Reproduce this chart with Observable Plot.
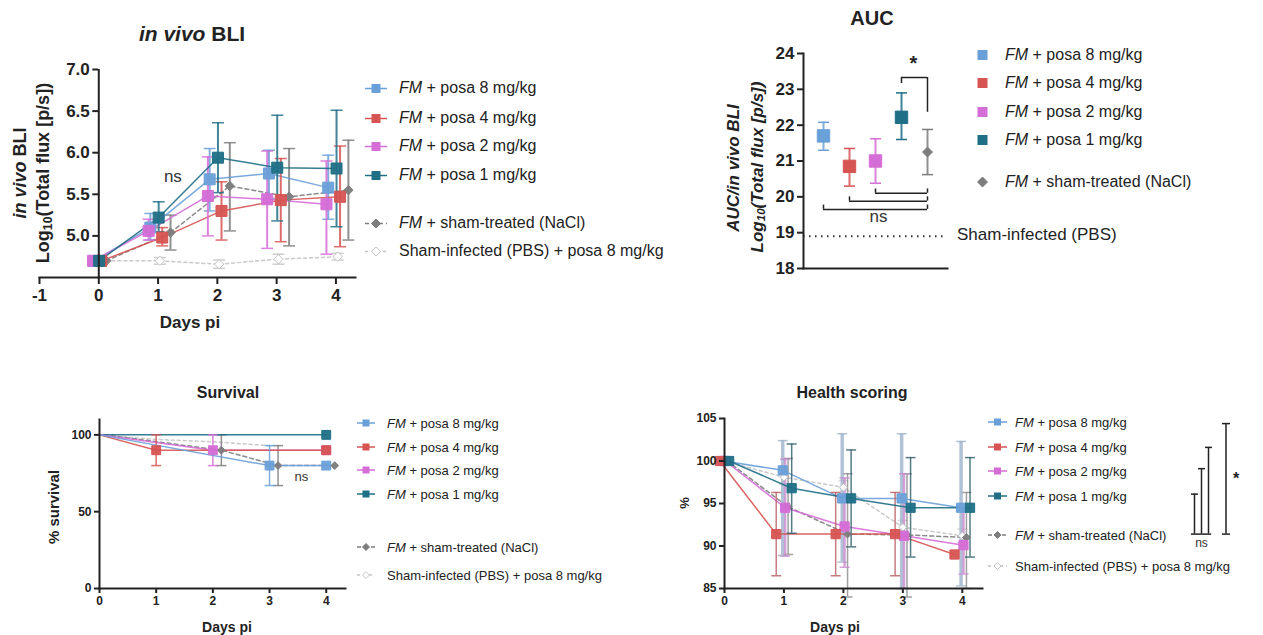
<!DOCTYPE html>
<html><head><meta charset="utf-8">
<script src="https://cdn.jsdelivr.net/npm/d3@7"></script>
<script src="https://cdn.jsdelivr.net/npm/@observablehq/plot@0.6"></script>
<style>
body{margin:0;background:#fff;font-family:"Liberation Sans",Arial,sans-serif;}
#root{position:relative;width:1263px;height:635px;overflow:hidden;background:#fff;}
.abs{position:absolute;white-space:nowrap;color:#222;line-height:1;}
.title{font-weight:bold;transform:translate(-50%,-50%);}
.ylab{font-weight:bold;transform:translate(-50%,-50%) rotate(-90deg);}
.leg{position:absolute;display:flex;align-items:center;white-space:nowrap;color:#222;transform:translateY(-50%);line-height:1;}
sub{font-size:0.68em;vertical-align:-0.25em;line-height:0;}
</style></head><body><div id="root"></div><script>
// ---------------- DATA ----------------
const groups = ["FM + posa 8 mg/kg","FM + posa 4 mg/kg","FM + posa 2 mg/kg","FM + posa 1 mg/kg","FM + sham-treated (NaCl)","Sham-infected (PBS) + posa 8 mg/kg"];
const days = [0,1,2,3,4];

// in vivo BLI, log10 total flux (mean, lower, upper)
const bli8  = [4.70,5.10,5.68,5.75,5.58], bli8Lo  = [4.70,4.95,5.30,5.45,5.20], bli8Hi  = [4.70,5.27,6.05,6.03,5.97];
const bli4  = [4.70,4.98,5.30,5.43,5.47], bli4Lo  = [4.70,4.88,4.95,4.93,4.87], bli4Hi  = [4.70,5.10,5.65,5.93,6.08];
const bli2  = [4.70,5.06,5.48,5.44,5.38], bli2Lo  = [4.70,4.95,5.00,4.85,4.78], bli2Hi  = [4.70,5.20,5.95,6.02,5.90];
const bli1  = [4.70,5.22,5.94,5.82,5.81], bli1Lo  = [4.70,5.05,5.52,5.18,5.11], bli1Hi  = [4.70,5.41,6.36,6.45,6.51];
const bliNaCl = [4.70,5.04,5.60,5.47,5.55], bliNaClLo = [4.70,4.83,5.06,4.88,4.95], bliNaClHi = [4.70,5.25,6.12,6.05,6.15];
const bliPBS  = [4.70,4.70,4.66,4.72,4.75], bliPBSLo  = [4.70,4.66,4.61,4.66,4.71], bliPBSHi  = [4.70,4.74,4.71,4.78,4.79];
const bliXTicks = [-1,0,1,2,3,4];
const bliYTicks = [5.0,5.5,6.0,6.5,7.0];
const bliNs = [{day: 1.25, value: 5.71, label: "ns"}];

// AUC
const aucMean = [21.70,20.85,21.00,22.22,21.25];
const aucLo   = [21.30,20.30,20.38,21.60,20.62];
const aucHi   = [22.08,21.35,21.62,22.90,21.88];
const aucSham = [18.9];
const aucYTicks = [18,19,20,21,22,23,24];

// Survival (%), points where the curves are drawn
const survDays8 = [0,3,4],       surv8 = [100,80,80],      surv8Lo = [100,67,80],      surv8Hi = [100,93,80];
const survDays4 = [0,1,4],       surv4 = [100,90,90],      surv4Lo = [100,80,90],      surv4Hi = [100,100,90];
const survDays2 = [0,2,4],       surv2 = [100,90,90],      surv2Lo = [100,80,90],      surv2Hi = [100,100,90];
const survDays1 = [0,4],         surv1 = [100,100],        surv1Lo = [100,100],        surv1Hi = [100,100];
const survDaysNaCl = [0,2,3,4],  survNaCl = [100,90,80,80], survNaClLo = [100,80,67,80], survNaClHi = [100,100,93,80];
const survDaysPBS = [0,1,2,3],   survPBS = [100,97,95.5,93], survPBSLo = [100,97,95.5,93], survPBSHi = [100,97,95.5,93];
const survYTicks = [0,50,100];

// Health scoring (%)
const health8 = [100,98.9,95.6,95.6,94.5], health8Lo = [100,88.9,88.1,85.0,85.3], health8Hi = [100,102.4,103.2,103.2,102.3];
const health4 = [100,91.4,91.4,91.4,89.0], health4Lo = [100,86.5,86.5,86.5,89.0], health4Hi = [100,96.3,96.3,96.3,89.0];
const health2 = [100,94.5,92.3,91.2,90.1], health2Lo = [100,88.8,87.5,85.0,86.7], health2Hi = [100,100.2,98.0,98.5,94.3];
const health1 = [100,96.8,95.6,94.5,94.5], health1Lo = [100,91.5,89.9,88.7,88.7], health1Hi = [100,102.0,101.3,100.4,100.4];
const healthNaCl = [100,94.6,91.4,91.3,91.0], healthNaClLo = [100,89.0,84.0,84.0,85.0], healthNaClHi = [100,100.3,98.5,98.5,96.3];
const healthPBS  = [100,98.1,96.9,92.2,91.2], healthPBSLo = [100,97.3,96.1,91.4,90.4], healthPBSHi = [100,98.9,97.7,93.0,92.0];
const healthYTicks = [85,90,95,100,105];
const healthSigNs = [{slot: 2, y1: 91.4, y2: 96.1}, {slot: 3, y1: 91.4, y2: 99.1}, {slot: 4, y1: 91.4, y2: 101.6}];
const healthSigStar = [{slot: 6.5, y1: 91.4, y2: 104.4}];

// ---------------- STYLE ----------------
const colors  = ["#6aa0d8","#d65452","#d56dd6","#1f6f86","#7d7d7d","#c4c4c4"];
const fills   = ["#6aa0d8","#d65452","#d56dd6","#1f6f86","#7d7d7d","#ffffff"];
const symbols = ["square","square","square","square","diamond2","diamond2"];
const dashes  = [null,null,null,null,"4,3","3,3"];
const bliDodge    = [-0.13,0.07,-0.16,0.01,0.21,0.03];
const healthDodge = [-0.02,-0.13,0.02,0.13,0.07,0.0];
const survDodge   = [0,0,0,0,0.15,0];
const ink = "#222";
const font = '"Liberation Sans", Arial, sans-serif';
const capSym = {draw(ctx, size){ const w = Math.sqrt(size/Math.PI); ctx.moveTo(-w,0); ctx.lineTo(w,0); }};
const intFmt = d => String(d).replace("\u2212", "-");

const root = document.getElementById("root");
function rows(xs, ys, lo, hi, dodge){ return xs.map((x,i)=>({x: x + (i===0 && x===0 ? dodge*0.6 : dodge), y: ys[i], lo: lo[i], hi: hi[i]})); }
function seriesMarks(data, k, o){
  const err = data.filter(d => d.hi !== d.lo);
  const ec = o.errColor ? o.errColor[k] : colors[k];
  const ew = Array.isArray(o.ew) ? o.ew[k] : o.ew;
  return {
    back: [
      Plot.ruleX(err, {x:"x", y1:"lo", y2:"hi", stroke: ec, strokeWidth: ew, strokeOpacity: o.eo ?? 0.85}),
      Plot.dot(err, {x:"x", y:"lo", symbol: capSym, r: o.capR, fill:"none", stroke: ec, strokeWidth: 1.5, strokeOpacity: o.eo ?? 0.85}),
      Plot.dot(err, {x:"x", y:"hi", symbol: capSym, r: o.capR, fill:"none", stroke: ec, strokeWidth: 1.5, strokeOpacity: o.eo ?? 0.85}),
      Plot.line(data, {x:"x", y:"y", stroke: colors[k], strokeWidth: o.lw, strokeDasharray: dashes[k], strokeOpacity: 0.9})
    ],
    front: o.noMarker && o.noMarker[k] ? [] : [
      Plot.dot(o.skip0 ? data.filter((d,i)=>i>0) : data, {x:"x", y:"y", symbol: symbols[k], r: symbols[k]==="square" ? o.r : o.rd, fill: fills[k], stroke: colors[k], strokeWidth: 1, fillOpacity: 0.95})
    ]
  };
}
function place(el, left, top){ el.style.position="absolute"; el.style.left=left+"px"; el.style.top=top+"px"; root.appendChild(el); }
function label(html, x, y, cls, size, extra=""){ const d=document.createElement("div"); d.className="abs "+cls; d.style.left=x+"px"; d.style.top=y+"px"; d.style.fontSize=size+"px"; d.style.cssText+=extra; d.innerHTML=html; root.appendChild(d); }
function legendLabel(g){ return g.replace(/^FM/, "<i>FM</i>"); }
function swatch(k, w, s, line){
  const h = s + 4, cx = w/2, cy = h/2;
  let m;
  if (symbols[k] === "square") m = `<rect x="${cx-s/2}" y="${cy-s/2}" width="${s}" height="${s}" fill="${colors[k]}"/>`;
  else { const r = s*0.5; m = `<polygon points="${cx},${cy-r} ${cx+r},${cy} ${cx},${cy+r} ${cx-r},${cy}" fill="${fills[k]}" stroke="${colors[k]}" stroke-width="1"/>`; }
  const l = line ? `<line x1="0" x2="${w}" y1="${cy}" y2="${cy}" stroke="${colors[k]}" stroke-width="1.5" ${dashes[k] ? `stroke-dasharray="${dashes[k]}"` : ""}/>` : "";
  return `<svg width="${w}" height="${h}" style="display:block">${l}${m}</svg>`;
}
function legend(idx, left, ys, size, w, s, gap, line){
  idx.forEach((k,i)=>{
    const d=document.createElement("div"); d.className="leg";
    d.style.left=left+"px"; d.style.top=ys[i]+"px"; d.style.fontSize=size+"px";
    d.innerHTML = swatch(k,w,s,line) + `<span style="margin-left:${gap}px">${legendLabel(groups[k])}</span>`;
    root.appendChild(d);
  });
}
const baseStyle = {fontFamily: font, color: ink, background: "transparent", overflow: "visible"};
function axisOpts(size, extra){ return Object.assign({tickSize: 6, tickPadding: 3, fontSize: size, fontWeight: "bold", strokeWidth: 2, stroke: ink, fill: ink, label: null, tickFormat: intFmt}, extra); }

// ---------------- PANEL 1: in vivo BLI ----------------
{
  const series = [[bli8,bli8Lo,bli8Hi],[bli4,bli4Lo,bli4Hi],[bli2,bli2Lo,bli2Hi],[bli1,bli1Lo,bli1Hi],[bliNaCl,bliNaClLo,bliNaClHi],[bliPBS,bliPBSLo,bliPBSHi]];
  const back = [], front = [];
  const order = [5,4,0,1,2,3];
  order.forEach(k => { const [m,l,h] = series[k]; const s = seriesMarks(rows(days,m,l,h,bliDodge[k]), k, {lw:1.5, ew:2, capR:6, r:6.2, rd:4.2}); back.push(...s.back); front.push(...s.front); });
  const p = Plot.plot({
    width: 360, height: 290, marginLeft: 39, marginRight: 5, marginTop: 19, marginBottom: 63,
    x: {domain: [-1, 4.33]}, y: {domain: [4.5, 7.0]}, style: baseStyle,
    marks: [
      ...back, ...front,
      Plot.frame({anchor: "bottom", stroke: ink, strokeWidth: 2}),
      Plot.ruleX([0], {stroke: ink, strokeWidth: 2}),
      Plot.axisX(axisOpts(17, {ticks: bliXTicks, tickSize: 7, tickPadding: 4})),
      Plot.axisY(axisOpts(17, {x: 0, ticks: bliYTicks, tickFormat: d3.format(".1f")})),
      Plot.text(bliNs, {x: "day", y: "value", text: "label", fontSize: 17, fill: "#333"})
    ]
  });
  place(p, 0, 50);
  label("<i>in vivo</i> BLI", 192, 33, "title", 21);
  label("<i>in vivo</i> BLI", 20, 173, "ylab", 18);
  label("Log<sub>10</sub>(Total flux [p/s])", 43, 173, "ylab", 18);
  label("Days pi", 190, 322, "title", 17);
  legend([0,1,2,3,4,5], 365, [88,118,146,175,223,251], 16, 22, 9, 12, true);
}

// ---------------- PANEL 2: AUC ----------------
{
  const g5 = groups.slice(0,5);
  const auc = g5.map((g,i)=>({group: g, mean: aucMean[i], lo: aucLo[i], hi: aucHi[i], k: i}));
  const star = [{a: g5[3], b: g5[4], y: 23.33, ya: 23.16, yb: 22.36, label: "*"}];
  const ns = [{a: g5[0], b: g5[4], y: 19.65}, {a: g5[1], b: g5[4], y: 19.88}, {a: g5[2], b: g5[4], y: 20.1}];
  const marks = [
    Plot.ruleY(aucSham, {stroke: "#333", strokeWidth: 2, strokeDasharray: "1.5,4.5"}),
    Plot.frame({anchor: "left", stroke: ink, strokeWidth: 2}),
    Plot.frame({anchor: "bottom", stroke: ink, strokeWidth: 2}),
    Plot.axisY(axisOpts(17, {ticks: aucYTicks, tickSize: 6})),
  ];
  auc.forEach(d => {
    const c = colors[d.k];
    marks.push(Plot.ruleX([d], {x:"group", y1:"lo", y2:"hi", stroke: c, strokeWidth: 2, strokeOpacity: 0.85}));
    marks.push(Plot.dot([d], {x:"group", y:"lo", symbol: capSym, r: 5.5, fill:"none", stroke: c, strokeWidth: 1.5}));
    marks.push(Plot.dot([d], {x:"group", y:"hi", symbol: capSym, r: 5.5, fill:"none", stroke: c, strokeWidth: 1.5}));
    marks.push(Plot.dot([d], {x:"group", y:"mean", symbol: symbols[d.k], r: symbols[d.k]==="square" ? 7 : 4.5, fill: fills[d.k], stroke: c, strokeWidth: 1}));
  });
  marks.push(
    Plot.ruleY(star, {y:"y", x1:"a", x2:"b", stroke: ink, strokeWidth: 1.5}),
    Plot.ruleX(star, {x:"a", y1:"y", y2:"ya", stroke: ink, strokeWidth: 1.5}),
    Plot.ruleX(star, {x:"b", y1:"y", y2:"yb", stroke: ink, strokeWidth: 1.5}),
    Plot.text(star, {x:"b", y: d => d.y + 0.38, dx: -14, text:"label", fontSize: 20, fontWeight: "bold", fill: ink}),
    Plot.ruleY(ns, {y:"y", x1:"a", x2:"b", stroke: ink, strokeWidth: 1.5}),
    Plot.ruleX(ns, {x:"a", y1:"y", y2: d => d.y + 0.12, stroke: ink, strokeWidth: 1.5}),
    Plot.ruleX(ns, {x:"b", y1:"y", y2: d => d.y + 0.12, stroke: ink, strokeWidth: 1.5}),
    Plot.text([ns[2]], {x:"a", y: d => d.y - 0.66, dx: 3, text: () => "ns", fontSize: 17, fill: "#333"})
  );
  const p = Plot.plot({
    width: 250, height: 240, marginLeft: 103, marginRight: 3, marginTop: 13, marginBottom: 12,
    x: {type: "point", domain: g5, padding: 0.72, axis: null}, y: {domain: [18, 24]}, style: baseStyle,
    marks
  });
  place(p, 700, 40);
  label("AUC", 872, 18, "title", 20);
  label("<i>AUC/in vivo BLI</i>", 733, 168, "ylab", 17);
  label("<i>Log<sub>10</sub>(Total flux [p/s])</i>", 757, 167, "ylab", 17);
  label("Sham-infected (PBS)", 957, 234, "", 17, "transform:translateY(-50%);");
  legend([0,1,2,3,4], 977, [55,83,112,140,182], 16, 11, 10, 17, false);
}

// ---------------- PANEL 3: Survival ----------------
{
  const series = [[survDays8,surv8,surv8Lo,surv8Hi],[survDays4,surv4,surv4Lo,surv4Hi],[survDays2,surv2,surv2Lo,surv2Hi],[survDays1,surv1,surv1Lo,surv1Hi],[survDaysNaCl,survNaCl,survNaClLo,survNaClHi],[survDaysPBS,survPBS,survPBSLo,survPBSHi]];
  const back = [], front = [];
  const order = [5,4,3,2,1,0];
  order.forEach(k => { const [x,m,l,h] = series[k]; const s = seriesMarks(rows(x,m,l,h,survDodge[k]), k, {lw:1.5, ew:1.5, capR:5, r:5, rd:3.5, skip0:true, noMarker:[0,0,0,0,0,1]}); back.push(...s.back); front.push(...s.front); });
  const p = Plot.plot({
    width: 360, height: 235, marginLeft: 99, marginRight: 15, marginTop: 19, marginBottom: 47,
    x: {domain: [0, 4.34]}, y: {domain: [0, 110]}, style: baseStyle,
    marks: [
      ...back, ...front,
      Plot.frame({anchor: "left", stroke: ink, strokeWidth: 2}),
      Plot.frame({anchor: "bottom", stroke: ink, strokeWidth: 2}),
      Plot.axisX(axisOpts(12, {ticks: days, tickSize: 5})),
      Plot.axisY(axisOpts(12, {ticks: survYTicks, tickSize: 5})),
      Plot.text([{day: 3.56, value: 72.7}], {x: "day", y: "value", text: () => "ns", fontSize: 13, fill: "#333"})
    ]
  });
  place(p, 0, 400);
  label("Survival", 228, 393, "title", 16);
  label("% survival", 53, 507, "ylab", 15);
  label("Days pi", 227, 627, "title", 14);
  legend([0,1,2,3,4,5], 357, [423,447,470,494,547,575], 13, 18, 7, 12, true);
}

// ---------------- PANEL 4: Health scoring ----------------
{
  const series = [[health8,health8Lo,health8Hi],[health4,health4Lo,health4Hi],[health2,health2Lo,health2Hi],[health1,health1Lo,health1Hi],[healthNaCl,healthNaClLo,healthNaClHi],[healthPBS,healthPBSLo,healthPBSHi]];
  const errColor = ["#9fb3cc","#b85a62","#c98bd0","#2b5a66","#8a8a8a","#cfcfcf"];
  const back = [], front = [];
  const order = [5,4,0,2,1,3];
  order.forEach(k => { const [m,l,h] = series[k]; const s = seriesMarks(rows(days,m,l,h,healthDodge[k]), k, {lw:1.5, ew:[3.5,1.5,2.5,1.5,1.5,1.5], eo:0.8, errColor, capR:5, r:5.2, rd:3.5}); back.push(...s.back); front.push(...s.front); });
  const p = Plot.plot({
    width: 320, height: 235, marginLeft: 44, marginRight: 18, marginTop: 18, marginBottom: 47,
    x: {domain: [0, 4.34]}, y: {domain: [85, 105]}, style: baseStyle,
    marks: [
      ...back, ...front,
      Plot.frame({anchor: "left", stroke: ink, strokeWidth: 2}),
      Plot.frame({anchor: "bottom", stroke: ink, strokeWidth: 2}),
      Plot.axisX(axisOpts(12, {ticks: days, tickSize: 5})),
      Plot.axisY(axisOpts(12, {ticks: healthYTicks, tickSize: 5}))
    ]
  });
  place(p, 680, 400);
  label("Health scoring", 852, 393, "title", 16);
  label("%", 684, 503, "ylab", 13);
  label("Days pi", 835, 627, "title", 14);
  legend([0,1,2,3,4,5], 988, [422,447,471,496,535,566], 13, 19, 7, 8, true);

  const lo = d3.min(healthSigNs, d => d.slot) - 0.45, hi = d3.max(healthSigNs, d => d.slot) + 0.45;
  const sig = Plot.plot({
    width: 70, height: 235, marginLeft: 0, marginRight: 0, marginTop: 18, marginBottom: 47,
    x: {domain: [0, 10], axis: null}, y: {domain: [85, 105], axis: null}, style: baseStyle,
    marks: [
      Plot.ruleX(healthSigNs, {x: "slot", y1: "y1", y2: "y2", stroke: ink, strokeWidth: 1.5}),
      Plot.dot(healthSigNs, {x: "slot", y: "y2", symbol: capSym, r: 3.5, fill: "none", stroke: ink, strokeWidth: 1.5}),
      Plot.ruleY([{y: healthSigNs[0].y1, x1: lo, x2: hi}], {y: "y", x1: "x1", x2: "x2", stroke: ink, strokeWidth: 1.5}),
      Plot.text([{x: (lo + hi) / 2, y: healthSigNs[0].y1}], {x: "x", y: "y", dy: 9, text: () => "ns", fontSize: 12, fill: "#333"}),
      Plot.ruleX(healthSigStar, {x: "slot", y1: "y1", y2: "y2", stroke: ink, strokeWidth: 1.5}),
      Plot.dot(healthSigStar, {x: "slot", y: "y1", symbol: capSym, r: 4, fill: "none", stroke: ink, strokeWidth: 1.5}),
      Plot.dot(healthSigStar, {x: "slot", y: "y2", symbol: capSym, r: 4, fill: "none", stroke: ink, strokeWidth: 1.5}),
      Plot.text(healthSigStar, {x: "slot", y: d => (d.y1 + d.y2) / 2, dx: 10, text: () => "*", fontSize: 16, fontWeight: "bold", fill: ink})
    ]
  });
  place(sig, 1180, 400);
}
</script></body></html>
